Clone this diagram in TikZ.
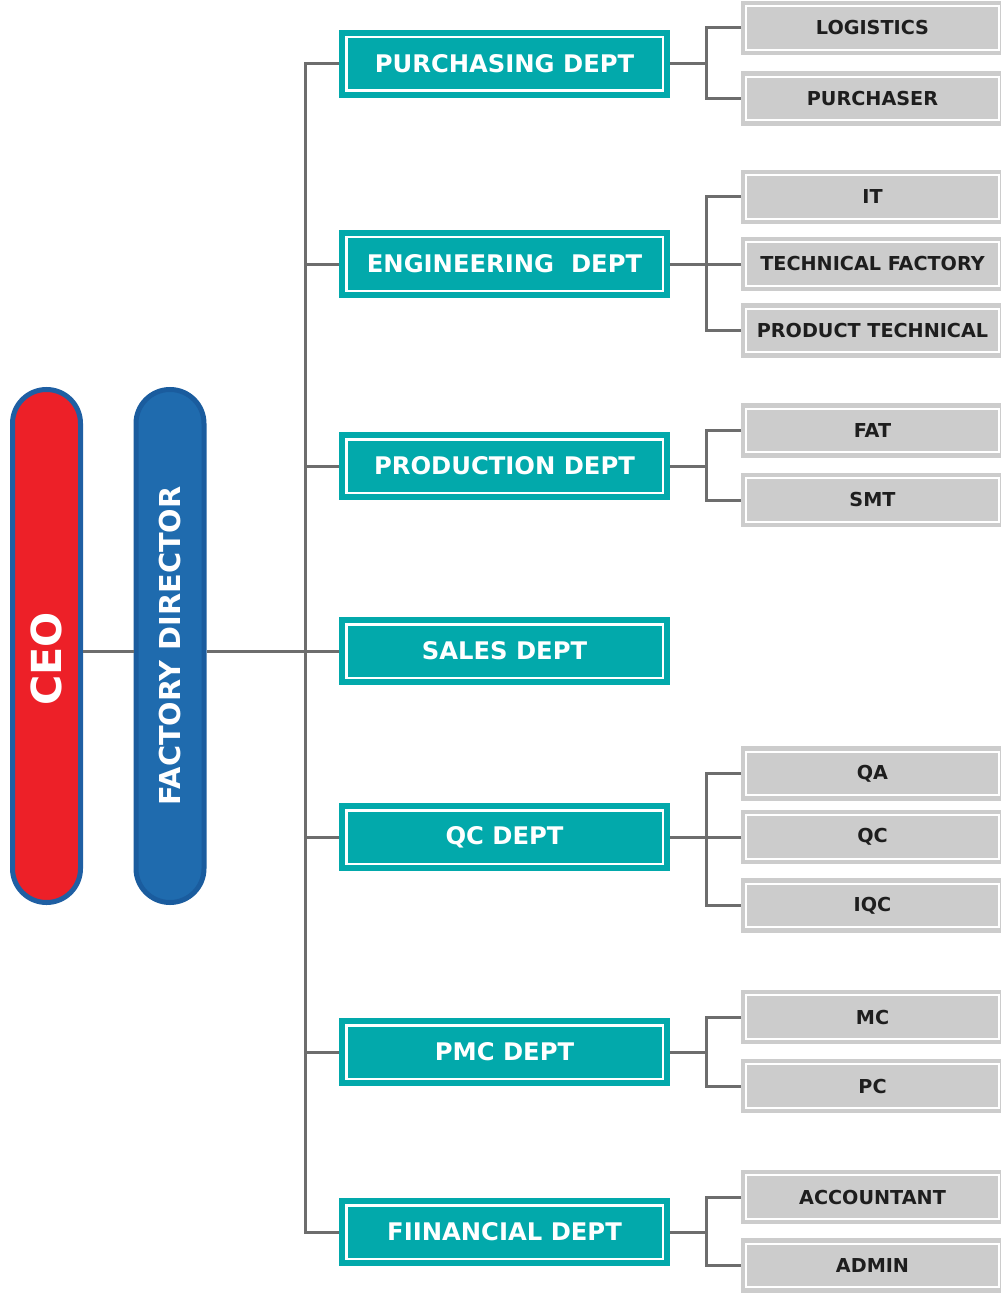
\documentclass[tikz,border=0pt]{standalone}
\usepackage{fontspec}
\setmainfont{DejaVu Sans}
\usetikzlibrary{positioning}

\definecolor{ceored}{RGB}{237,32,40}
\definecolor{ceoedge}{RGB}{31,95,163}
\definecolor{fdblue}{RGB}{31,107,174}
\definecolor{fdedge}{RGB}{26,92,158}
\definecolor{deptteal}{RGB}{2,169,171}
\definecolor{subgray}{RGB}{204,204,204}
\definecolor{linkgray}{RGB}{109,109,109}
\definecolor{subtext}{RGB}{30,30,30}

\tikzset{every picture/.style={line width=0.75pt}}
\tikzset{
  pill/.style={rectangle, rounded corners=25.5pt, line width=3.75pt, minimum width=384.75pt, minimum height=51pt, inner sep=0pt, rotate=90, text=white},
  dept/.style={rectangle, fill=deptteal, draw=deptteal, double=white, line width=4.5pt, double distance=1.875pt, minimum width=237.375pt, minimum height=40.125pt, inner sep=0pt, outer sep=5.4375pt, text=white, font=\fontsize{18.2}{20}\selectfont\bfseries},
  sub/.style={rectangle, fill=subgray, draw=subgray, double=white, line width=3.375pt, double distance=1.3pt, minimum width=189.375pt, minimum height=32.625pt, inner sep=0pt, outer sep=3.9375pt, text=subtext, font=\fontsize{14.4}{16}\selectfont\bfseries},
  link/.style={draw=linkgray, line width=2.25pt}
}

\begin{document}
\begin{tikzpicture}[x=0.75pt,y=0.75pt,yscale=-1,xscale=1]
	\useasboundingbox (0,0) rectangle (1000,1298);

	%Shape: Pills [id:ceo, fd]
	\node[pill, fill=ceored, draw=ceoedge, font=\fontsize{31}{32}\selectfont\bfseries] (ceo) at (46.5,646) {CEO\hspace*{19.5pt}};
	\node[pill, fill=fdblue, draw=fdedge, font=\fontsize{21.6}{23}\selectfont\bfseries] (fd) at (170,646) {FACTORY DIRECTOR};

	%Shape: Dept boxes
	\node[dept] (pur) at (504.5,64) {PURCHASING DEPT};
	\node[dept] (eng) at (504.5,264) {ENGINEERING \ DEPT};
	\node[dept] (prod) at (504.5,466) {PRODUCTION DEPT};
	\node[dept] (sales) at (504.5,651) {SALES DEPT};
	\node[dept] (qc) at (504.5,837) {QC DEPT};
	\node[dept] (pmc) at (504.5,1052) {PMC DEPT};
	\node[dept] (fin) at (504.5,1232) {FIINANCIAL DEPT};

	%Shape: Section boxes
	\node[sub] (log) at (872.5,28) {LOGISTICS};
	\node[sub] (purc) at (872.5,98.5) {PURCHASER};
	\node[sub] (it) at (872.5,197) {IT};
	\node[sub] (tf) at (872.5,264) {TECHNICAL FACTORY};
	\node[sub] (pt) at (872.5,330.5) {PRODUCT TECHNICAL};
	\node[sub] (fat) at (872.5,430.5) {FAT};
	\node[sub] (smt) at (872.5,500) {SMT};
	\node[sub] (qa) at (872.5,773.5) {QA};
	\node[sub] (qcs) at (872.5,837) {QC};
	\node[sub] (iqc) at (872.5,905.5) {IQC};
	\node[sub] (mc) at (872.5,1017) {MC};
	\node[sub] (pc) at (872.5,1086) {PC};
	\node[sub] (acc) at (872.5,1197) {ACCOUNTANT};
	\node[sub] (adm) at (872.5,1265.5) {ADMIN};

	%Straight Lines: trunk
	\coordinate (trunk) at (305,651);
	\coordinate (br) at (706,0);
	\draw[link] (ceo.south |- sales.west) -- (fd.north |- sales.west);
	\draw[link] (fd.south |- sales.west) -- (sales.west);
	\draw[link] (pur.west) -| (trunk) |- (fin.west);
	\foreach \d in {eng,prod,qc,pmc}
		\draw[link] (\d.west) -- (\d.west -| trunk);

	%Straight Lines: branches
	\foreach \d/\a/\b in {pur/log/purc, eng/it/pt, prod/fat/smt, qc/qa/iqc, pmc/mc/pc, fin/acc/adm} {
		\draw[link] (\d.east) -- (\d.east -| br);
		\draw[link] (\a.west) -- (\a.west -| br) -- (\b.west -| br) -- (\b.west);
	}
	\foreach \s in {tf,qcs}
		\draw[link] (\s.west) -- (\s.west -| br);

\end{tikzpicture}
\end{document}
